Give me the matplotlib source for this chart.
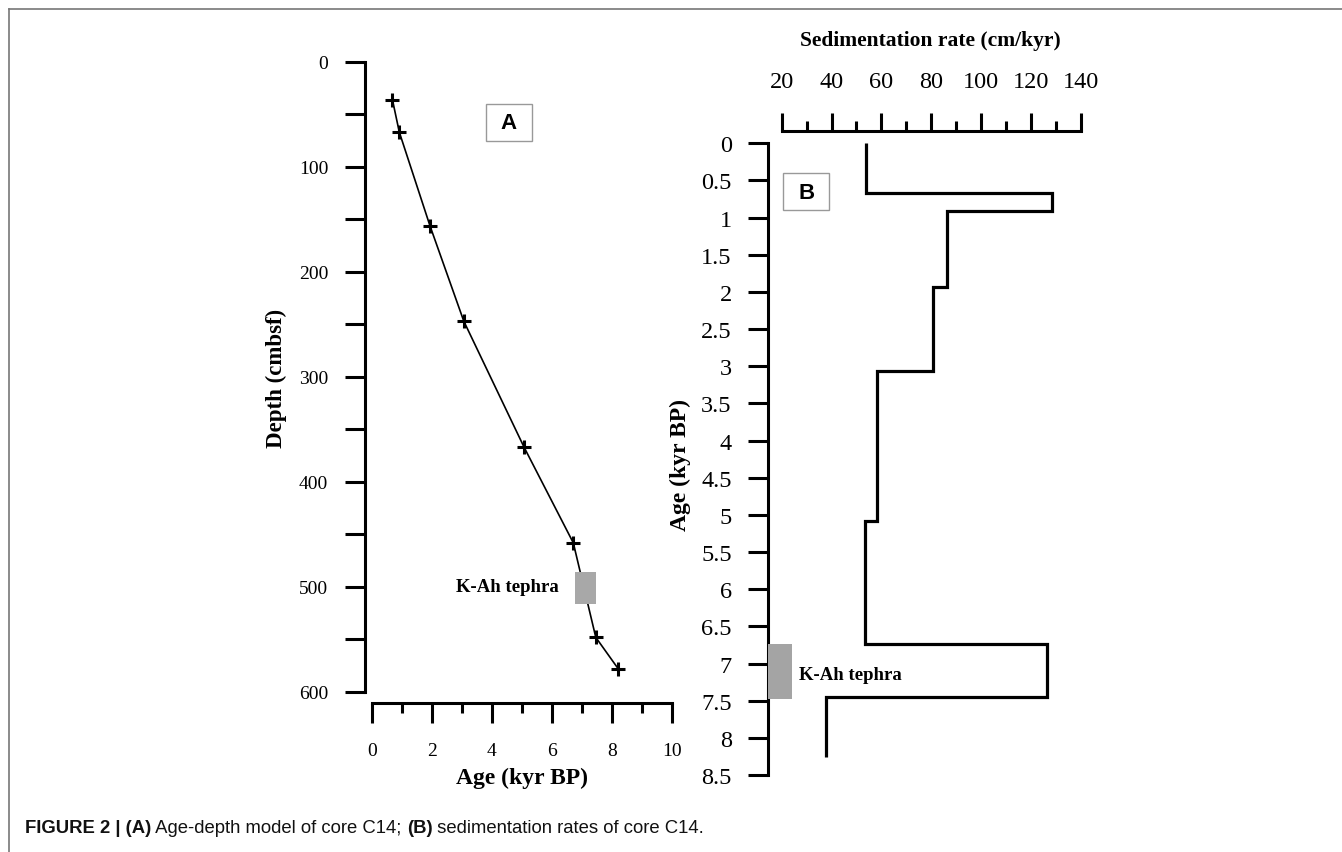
import matplotlib
matplotlib.use('Agg')
import matplotlib.pyplot as plt
from matplotlib.patches import Rectangle
from matplotlib.lines import Line2D

# A: age-depth model
age_pts = [0.69, 0.92, 1.94, 3.07, 5.08, 6.72, 7.47, 8.22]
depth_pts = [36, 67, 156, 247, 367, 458, 548, 578]
tephra_age_a = (6.78, 7.47)
tephra_depth_a = (486, 516)

# B: sedimentation rate
age_breaks = [0, 0.67, 0.91, 1.94, 3.06, 5.08, 6.74, 7.45, 8.26]
sed_rates = [54, 128.4, 86.3, 80.6, 58.3, 53.5, 126.4, 37.8]
tephra_age_b = (6.74, 7.48)
b_ticks = [0, 0.5, 1, 1.5, 2, 2.5, 3, 3.5, 4, 4.5, 5, 5.5, 6, 6.5, 7, 7.5, 8, 8.5]
b_ticklabels = ['0', '0.5', '1', '1.5', '2', '2.5', '3', '3.5', '4', '4.5',
                '5', '5.5', '6', '6.5', '7', '7.5', '8', '8.5']

W, H = 1342, 853
serif = 'Liberation Serif'
sans = 'Liberation Sans'

fig = plt.figure(figsize=(W / 100, H / 100), dpi=100)


def box(l, t, r, b):
    return [l / W, 1 - b / H, (r - l) / W, (b - t) / H]


# ---- panel A ----
ax = fig.add_axes(box(365, 62.7, 680, 693))
ax.plot(age_pts, depth_pts, color='black', lw=1.2, marker='+', ms=10, mew=2.2)
ax.add_patch(Rectangle((tephra_age_a[0], tephra_depth_a[0]),
                       tephra_age_a[1] - tephra_age_a[0],
                       tephra_depth_a[1] - tephra_depth_a[0],
                       facecolor='#a8a8a8', edgecolor='none', zorder=3))
ax.text(6.25, 500, 'K-Ah tephra', ha='right', va='center', family=serif,
        weight='bold', fontsize=13.5)
ax.add_patch(Rectangle((3.8, 40.3), 1.53, 34.9, facecolor='white',
                       edgecolor='#999999', lw=1))
ax.text(4.57, 58, 'A', ha='center', va='center', family=sans, weight='bold', fontsize=16)

ax.set_xlim(-0.223, 10.277)
ax.set_ylim(600, 0)
for s in ['top', 'right']:
    ax.spines[s].set_visible(False)
ax.spines['left'].set_bounds(0, 600)
ax.spines['bottom'].set_bounds(0, 10)
ax.spines['bottom'].set_position(('outward', 7.9))
for s in ['left', 'bottom']:
    ax.spines[s].set_linewidth(2.2)
ax.set_xticks([0, 2, 4, 6, 8, 10])
ax.set_xticks([1, 3, 5, 7, 9], minor=True)
ax.set_yticks([0, 100, 200, 300, 400, 500, 600])
ax.set_yticks([50, 150, 250, 350, 450, 550], minor=True)
ax.tick_params(axis='x', which='major', length=14.4, width=2.2, pad=14)
ax.tick_params(axis='x', which='minor', length=7.2, width=2.2)
ax.tick_params(axis='y', which='both', length=14.4, width=2.2, pad=12)
for lab in ax.get_xticklabels() + ax.get_yticklabels():
    lab.set_fontfamily(serif)
    lab.set_fontsize(14)
ax.patch.set_visible(False)

# ---- panel B ----
bx = fig.add_axes(box(768.3, 144.3, 1100, 776))
bx.stairs(sed_rates, age_breaks, orientation='horizontal', baseline=None,
          color='black', lw=2.3)
bx.add_patch(Rectangle((14.62, tephra_age_b[0]), 9.4, tephra_age_b[1] - tephra_age_b[0],
                       facecolor='#a4a4a4', edgecolor='none', zorder=3, clip_on=False))
bx.text(27, 7.15, 'K-Ah tephra', ha='left', va='center', family=serif,
        weight='bold', fontsize=13.5)
bx.add_patch(Rectangle((20.64, 0.404), 18.46, 0.498, facecolor='white',
                       edgecolor='#999999', lw=1))
bx.text(29.9, 0.66, 'B', ha='center', va='center', family=sans, weight='bold', fontsize=16)

bx.set_xlim(14.62, 147.74)
bx.set_ylim(8.5, 0)
for s in ['bottom', 'right']:
    bx.spines[s].set_visible(False)
bx.spines['left'].set_bounds(0, 8.5)
bx.spines['top'].set_bounds(20, 140)
bx.spines['top'].set_position(('outward', 8.6))
for s in ['left', 'top']:
    bx.spines[s].set_linewidth(2.2)
bx.xaxis.tick_top()
bx.set_xticks([20, 40, 60, 80, 100, 120, 140])
bx.set_xticks([30, 50, 70, 90, 110, 130], minor=True)
bx.set_yticks(b_ticks)
bx.set_yticklabels(b_ticklabels)
bx.tick_params(axis='x', which='major', length=13, width=2.2, pad=15)
bx.tick_params(axis='x', which='minor', length=7, width=2.2)
bx.tick_params(axis='y', length=14.4, width=2.2, pad=12)
for lab in bx.get_xticklabels() + bx.get_yticklabels():
    lab.set_fontfamily(serif)
    lab.set_fontsize(17.5)
bx.patch.set_visible(False)

# axis titles
fig.text(276 / W, 1 - 378 / H, 'Depth (cmbsf)', rotation=90, ha='center', va='center',
         family=serif, weight='bold', fontsize=16.5)
fig.text(521.7 / W, 1 - 778 / H, 'Age (kyr BP)', ha='center', va='center',
         family=serif, weight='bold', fontsize=17)
fig.text(930 / W, 1 - 41 / H, 'Sedimentation rate (cm/kyr)', ha='center', va='center',
         family=serif, weight='bold', fontsize=15.5)
fig.text(680 / W, 1 - 465 / H, 'Age (kyr BP)', rotation=90, ha='center', va='center',
         family=serif, weight='bold', fontsize=17)

# frame lines
fig.add_artist(Line2D([9 / W, 1], [1 - 10 / H, 1 - 10 / H], color='#777777', lw=1.2))
fig.add_artist(Line2D([9 / W, 9 / W], [0, 1 - 10 / H], color='#777777', lw=1.2))

# caption, bold and regular pieces side by side
parts = [('FIGURE 2 | (A)', 'bold'), (' Age-depth model of core C14; ', 'normal'),
         ('(B)', 'bold'), (' sedimentation rates of core C14.', 'normal')]
r = fig.canvas.get_renderer()
x = 25
for txt, w in parts:
    t = fig.text(x / W, 1 - 829 / H, txt, ha='left', va='center', family=sans,
                 weight=w, fontsize=13.3, color='#111111')
    x += t.get_window_extent(r).width

fig.savefig('out.png', dpi=100)
